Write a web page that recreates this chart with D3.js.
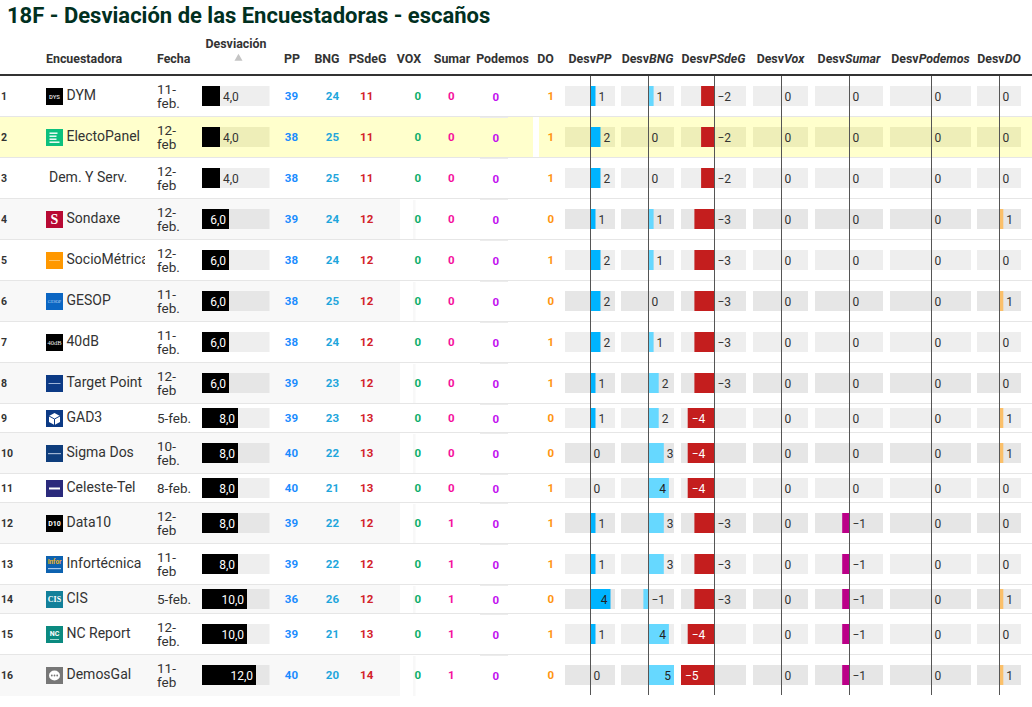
<!DOCTYPE html>
<html lang="es">
<head>
<meta charset="utf-8">
<script src="https://cdnjs.cloudflare.com/ajax/libs/d3/7.8.5/d3.min.js"></script>
<style>
html,body{margin:0;padding:0;background:#fff;overflow:hidden}
svg{display:block;font-family:Roboto,sans-serif}
</style>
</head>
<body>
<svg id="chart" width="1032" height="707"></svg>
<script>
const pollsters = ["DYM","ElectoPanel","Dem. Y Serv.","Sondaxe","SocioMétrica","GESOP","40dB","Target Point","GAD3","Sigma Dos","Celeste-Tel","Data10","Infortécnica","CIS","NC Report","DemosGal"];
const dates = ["11-feb.","12-feb","12-feb","12-feb.","12-feb.","11-feb.","11-feb.","12-feb","5-feb.","10-feb.","8-feb.","12-feb","11-feb","5-feb.","12-feb.","11-feb"];
const deviation = [4,4,4,6,6,6,6,6,8,8,8,8,8,10,10,12];
const seatsPP = [39,38,38,39,38,38,38,39,39,40,40,39,39,36,39,40];
const seatsBNG = [24,25,25,24,24,25,24,23,23,22,21,22,22,26,21,20];
const seatsPSdeG = [11,11,11,12,12,12,12,12,13,13,13,12,12,12,13,14];
const seatsVOX = [0,0,0,0,0,0,0,0,0,0,0,0,0,0,0,0];
const seatsSumar = [0,0,0,0,0,0,0,0,0,0,0,1,1,1,1,1];
const seatsPodemos = [0,0,0,0,0,0,0,0,0,0,0,0,0,0,0,0];
const seatsDO = [1,1,1,0,1,0,1,1,0,0,1,1,1,0,1,0];
const devPP = [1,2,2,1,2,2,2,1,1,0,0,1,1,4,1,0];
const devBNG = [1,0,0,1,1,0,1,2,2,3,4,3,3,-1,4,5];
const devPSdeG = [-2,-2,-2,-3,-3,-3,-3,-3,-4,-4,-4,-3,-3,-3,-4,-5];
const devVox = [0,0,0,0,0,0,0,0,0,0,0,0,0,0,0,0];
const devSumar = [0,0,0,0,0,0,0,0,0,0,0,-1,-1,-1,-1,-1];
const devPodemos = [0,0,0,0,0,0,0,0,0,0,0,0,0,0,0,0];
const devDO = [0,0,0,1,0,1,0,0,1,1,0,0,0,1,0,1];

const svg = d3.select("#chart");
const W = 1032, HL = 1, TOP = 75, DARK = "#333";
svg.append("rect").attr("width",W).attr("height",707).attr("fill","#fff");

svg.append("text").attr("x",7).attr("y",23).attr("font-size",22).attr("font-weight",700)
  .attr("fill","#01301f").text("18F - Desviación de las Encuestadoras - escaños");

const twoLine = d => d.split("-")[0].length === 2;
const heights = dates.map(d => twoLine(d) ? 41 : 29);
const tops = [TOP, ...d3.cumsum(heights).map(h => TOP + h)];
const cy = i => tops[i] + (heights[i]+1)/2;
const END = tops[pollsters.length];

// row backgrounds
const rows = svg.append("g");
pollsters.forEach((p,i)=>{
  if (i % 2 === 1 && i !== HL) {
    rows.append("rect").attr("x",0).attr("y",tops[i]+1).attr("width",400).attr("height",heights[i]).attr("fill","#f8f8f8");
    rows.append("rect").attr("x",413).attr("y",tops[i]+2).attr("width",2.5).attr("height",heights[i]-1).attr("fill","#f8f8f8");
  }
  if (i === HL) {
    rows.append("rect").attr("x",0).attr("y",tops[i]+1).attr("width",533).attr("height",heights[i]).attr("fill","#ffffcc");
    rows.append("rect").attr("x",539).attr("y",tops[i]+1).attr("width",W-539).attr("height",heights[i]).attr("fill","#ffffcc");
  }
  if (i > 0) {
    rows.append("rect").attr("x",0).attr("y",tops[i]).attr("width",W).attr("height",1).attr("fill","#e6e6e6");
    rows.append("rect").attr("x",480).attr("y",tops[i]+1).attr("width",28).attr("height",1).attr("fill","#ececec");
  }
});

// header
const head = svg.append("g").attr("font-size",12.4).attr("font-weight",700).attr("fill",DARK);
const hdr = (t,x,a="start",y=63) => head.append("text").attr("x",x).attr("y",y).attr("text-anchor",a).text(t);
hdr("Encuestadora",46); hdr("Fecha",157); hdr("Desviación",236,"middle",48);
hdr("PP",292,"middle"); hdr("BNG",327,"middle"); hdr("PSdeG",367.5,"middle"); hdr("VOX",409,"middle");
hdr("Sumar",452,"middle"); hdr("Podemos",502.5,"middle"); hdr("DO",545.5,"middle");
svg.append("path").attr("d",d3.symbol(d3.symbolTriangle,28)).attr("transform","translate(238.5,58.5)").attr("fill","#c4c4c4");
svg.append("rect").attr("x",0).attr("y",74).attr("width",W).attr("height",2).attr("fill","#333");

// logos
function logo(name,i){
  const x=46, y=cy(i)-8, s=17;
  const g=svg.append("g").attr("transform",`translate(${x},${y})`);
  const box=c=>g.append("rect").attr("width",s).attr("height",s).attr("fill",c);
  const lab=(t,c,fs,w=700,ff=null,yy=8.5)=>{const e=g.append("text").attr("x",8.5).attr("y",yy).attr("dy",".35em").attr("text-anchor","middle").attr("font-size",fs).attr("font-weight",w).attr("fill",c).text(t); if(ff)e.attr("font-family",ff); return e;};
  const band=(c,yy,h,xx=2,w=13)=>g.append("rect").attr("x",xx).attr("y",yy).attr("width",w).attr("height",h).attr("fill",c);
  switch(name){
    case "DYM": box("#000"); lab("DYS","#ccc",6); break;
    case "ElectoPanel": box("#0cc07e"); [4,7,10,13].forEach((yy,k)=>band("#fff",yy-.5,1.4,3.5,k===3?10:(k===0?8:7))); break;
    case "Sondaxe": box("#b80a34"); lab("S","#fff",14,700,"Liberation Serif"); break;
    case "SocioMétrica": box("#ff9800"); band("#ffc56b",8,1,3,11); break;
    case "GESOP": box("#0b66c3"); lab("GESOP","#bcd8f5",4.2,400,"Liberation Serif"); break;
    case "40dB": box("#000"); lab("40dB","#eee",6.5,400,"Liberation Serif"); break;
    case "Target Point": box("#0c3a85"); band("#9db4d8",8,1,2.5,12); break;
    case "GAD3": box("#0c3a85"); g.append("path").attr("d","M8.5 3 L14 6 L14 12 L8.5 15 L3 12 L3 6 Z").attr("fill","#fff");
      g.append("path").attr("d","M3 6 L8.5 9 L14 6 M8.5 9 L8.5 15").attr("fill","none").attr("stroke","#0c3a85"); break;
    case "Sigma Dos": box("#0e3d7c"); band("#9fb4d2",8,1.2,2,13); break;
    case "Celeste-Tel": box("#2b2a7c"); band("#fff",7.5,2,3,11); break;
    case "Data10": box("#000"); lab("D10","#fff",7); break;
    case "Infortécnica": box("#0d62b0"); lab("Infor","#f2b21c",6.4,700,null,6); band("#a9c9ea",12,1.2,2,13); break;
    case "CIS": box("#12809a"); lab("CIS","#fff",8,700,"Liberation Serif"); break;
    case "NC Report": box("#0b8a80"); lab("NC","#fff",7,700,null,7.5); band("#a4d8d2",13,1,4,9); break;
    case "DemosGal": box("#777"); g.append("ellipse").attr("cx",8.5).attr("cy",8.5).attr("rx",5.5).attr("ry",5).attr("fill","#fff");
      [5.8,8.5,11.2].forEach(c=>g.append("circle").attr("cx",c).attr("cy",8.5).attr("r",.9).attr("fill","#777")); break;
  }
}

// clip for long names
svg.append("defs").append("clipPath").attr("id","nameClip").append("rect").attr("x",40).attr("y",70).attr("width",105).attr("height",640);

const body = svg.append("g");
pollsters.forEach((p,i)=>{
  const y=cy(i);
  body.append("text").attr("x",1).attr("y",y).attr("dy",".35em").attr("font-size",10.5).attr("font-weight",700).attr("fill",DARK).text(i+1);
  const hasLogo = p !== "Dem. Y Serv.";
  if (hasLogo) logo(p,i);
  body.append("text").attr("x",hasLogo?66.5:49).attr("y",y-1).attr("dy",".35em").attr("font-size",14).attr("fill",DARK)
    .attr("clip-path","url(#nameClip)").text(p);
  const dt=dates[i];
  if (twoLine(dt)) {
    const k=dt.indexOf("-");
    body.append("text").attr("x",157).attr("y",y-7).attr("dy",".35em").attr("font-size",13.5).attr("fill",DARK).text(dt.slice(0,k+1));
    body.append("text").attr("x",157).attr("y",y+7.5).attr("dy",".35em").attr("font-size",13.5).attr("fill",DARK).text(dt.slice(k+1));
  } else {
    body.append("text").attr("x",157).attr("y",y+.5).attr("dy",".35em").attr("font-size",13.5).attr("fill",DARK).text(dt);
  }
});

const barBg = i => i===HL ? "#eeeeb8" : (i%2===1 ? "#e6e6e6" : "#eeeeee");

// Desviación bars
const xDev = d3.scaleLinear().domain([0,15]).range([202,269.5]);
const fmt = v => d3.format(".1f")(v).replace(".",",");
deviation.forEach((v,i)=>{
  const y=cy(i);
  body.append("rect").attr("x",xDev(0)).attr("y",y-10).attr("width",xDev(15)-xDev(0)).attr("height",20).attr("fill",barBg(i));
  body.append("rect").attr("x",xDev(0)).attr("y",y-10).attr("width",xDev(v)-xDev(0)).attr("height",20).attr("fill","#000");
  const inside = v>=5;
  body.append("text").attr("x",inside?xDev(v)-3:xDev(v)+3).attr("y",y+.5).attr("dy",".35em").attr("text-anchor",inside?"end":"start")
    .attr("font-size",12).attr("fill",inside?"#fff":DARK).text(fmt(v));
});

// seats
const seatCols = [
  {v:seatsPP,x:298,c:"#1a8cff",dy:0},{v:seatsBNG,x:339,c:"#1fa6dc",dy:0},{v:seatsPSdeG,x:373.3,c:"#d3222a",dy:0},
  {v:seatsVOX,x:421,c:"#0cae6c",dy:0},{v:seatsSumar,x:454.7,c:"#f5109c",dy:0},{v:seatsPodemos,x:499,c:"#c211ef",dy:1},
  {v:seatsDO,x:554,c:"#ff9510",dy:0}
];
seatCols.forEach(col=>col.v.forEach((v,i)=>{
  body.append("text").attr("x",col.x).attr("y",cy(i)+col.dy).attr("dy",".35em").attr("text-anchor","end")
    .attr("font-size",11.5).attr("font-weight",700).attr("fill",col.c).text(v);
}));

// deviation columns
const devCols = [
  {h:"PP",v:devPP,x0:565,x1:615,zero:590.5,unit:5,c:"#00b4ff",ink:"#222"},
  {h:"BNG",v:devBNG,x0:621,x1:674,zero:648.5,unit:5.1,c:"#66d8ff",ink:"#222"},
  {h:"PSdeG",v:devPSdeG,x0:681,x1:746,zero:714.5,unit:6.7,c:"#c41e1e",ink:"#fff"},
  {h:"Vox",v:devVox,x0:753,x1:808,zero:781.5,unit:5.5,c:"#6cbf3c",ink:"#222"},
  {h:"Sumar",v:devSumar,x0:815,x1:883,zero:849.5,unit:7.3,c:"#bb0088",ink:"#fff"},
  {h:"Podemos",v:devPodemos,x0:890,x1:971,zero:931.5,unit:8,c:"#8000c0",ink:"#fff"},
  {h:"DO",v:devDO,x0:977,x1:1021,zero:999.5,unit:3.8,c:"#fbc06a",ink:"#222"}
];
const gBars = svg.append("g");
devCols.forEach(col=>{
  const t=head.append("text").attr("x",(col.x0+col.x1)/2).attr("y",63).attr("text-anchor","middle");
  t.append("tspan").text("Desv");
  t.append("tspan").attr("font-style","italic").text(col.h);
  const sc=d3.scaleLinear().domain([0,1]).range([col.zero,col.zero+col.unit]);
  col.v.forEach((v,i)=>{
    const y=cy(i);
    gBars.append("rect").attr("x",col.x0).attr("y",y-10).attr("width",col.x1-col.x0).attr("height",20).attr("fill",barBg(i));
    if(v!==0) gBars.append("rect").attr("x",Math.min(sc(0),sc(v))).attr("y",y-10).attr("width",Math.abs(sc(v)-sc(0))).attr("height",20).attr("fill",col.c);
    const inside=Math.abs(v)>=4;
    let x,a,fill=DARK;
    const label=v<0?"−"+(-v):String(v);
    if(inside && v>0){x=sc(v)-3;a="end";fill=col.ink;}
    else if(inside && v<0){x=sc(v)+4;a="start";fill=col.ink;}
    else if(v>0){x=sc(v)+3;a="start";}
    else {x=sc(0)+3;a="start";}
    gBars.append("text").attr("x",x).attr("y",y+.5).attr("dy",".35em").attr("text-anchor",a).attr("font-size",12).attr("fill",fill).text(label);
  });
  gBars.append("line").attr("x1",sc(0)).attr("x2",sc(0)).attr("y1",76).attr("y2",END).attr("stroke","#555").attr("stroke-width",1);
});
</script>
</body>
</html>
